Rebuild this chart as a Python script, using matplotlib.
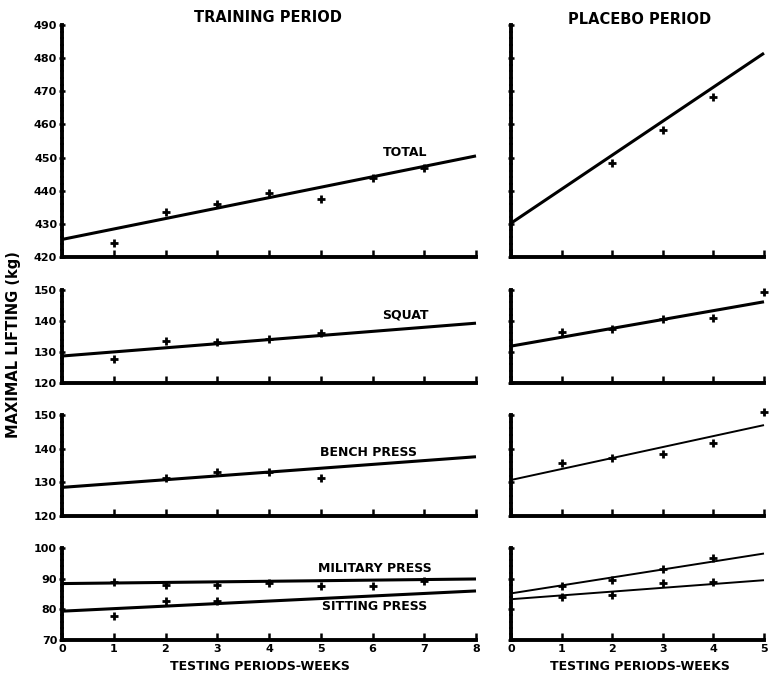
import numpy as np
import matplotlib.pyplot as plt
from matplotlib.ticker import MultipleLocator

# weekly test results (kg) and the fitted regression end points
fit_x_train = [0, 8]
fit_x_plac = [0, 5]

total_train_wk = [1, 2, 3, 4, 5, 6, 7]
total_train = [424.1, 433.5, 435.9, 439.2, 437.4, 443.7, 446.8]
total_train_fit = [425.3, 450.5]
total_plac_wk = [2, 3, 4]
total_plac = [448.4, 458.2, 468.2]
total_plac_fit = [430.2, 481.5]

squat_train_wk = [1, 2, 3, 4, 5]
squat_train = [127.6, 133.6, 133.2, 134.1, 136.2]
squat_train_fit = [128.7, 139.3]
squat_plac_wk = [1, 2, 3, 4, 5]
squat_plac = [136.4, 137.3, 140.5, 140.9, 149.5]
squat_plac_fit = [131.9, 146.2]

bench_train_wk = [2, 3, 4, 5]
bench_train = [131.2, 133.1, 133.0, 131.2]
bench_train_fit = [128.5, 137.6]
bench_plac_wk = [1, 2, 3, 4, 5]
bench_plac = [135.8, 137.1, 138.3, 141.8, 151.0]
bench_plac_fit = [130.7, 147.0]

military_train_wk = [1, 2, 3, 4, 5, 6, 7]
military_train = [88.9, 87.8, 87.8, 88.5, 87.5, 87.5, 89.3]
military_train_fit = [88.4, 89.9]
sitting_train_wk = [1, 2, 3]
sitting_train = [77.8, 82.8, 82.8]
sitting_train_fit = [79.4, 86.0]
military_plac_wk = [1, 2, 3, 4]
military_plac = [87.5, 89.5, 93.0, 96.6]
military_plac_fit = [85.2, 98.2]
sitting_plac_wk = [1, 2, 3, 4]
sitting_plac = [84.0, 84.7, 88.7, 89.0]
sitting_plac_fit = [83.3, 89.5]

ylims = [(420, 490), (120, 150), (120, 150), (70, 100)]
row_labels = ['TOTAL', 'SQUAT', 'BENCH PRESS', None]

W, H = 770, 677
fig = plt.figure(figsize=(W / 100, H / 100), dpi=100)

# pixel boxes (top, bottom) for the four rows
rows = [(25, 257), (290, 383), (415, 516), (548, 640)]
left_x = (62, 476)
right_x = (511, 764)


def make_ax(xr, yr):
    return fig.add_axes([xr[0] / W, 1 - yr[1] / H, (xr[1] - xr[0]) / W, (yr[1] - yr[0]) / H])


def style(ax, xmax, ylim, labels_y, labels_x):
    ax.set_xlim(0, xmax)
    ax.set_ylim(*ylim)
    for s in ['top', 'right']:
        ax.spines[s].set_visible(False)
    for s in ['left', 'bottom']:
        ax.spines[s].set_linewidth(2.8)
    ax.xaxis.set_major_locator(MultipleLocator(1))
    ax.yaxis.set_major_locator(MultipleLocator(10))
    ax.yaxis.set_minor_locator(MultipleLocator(2))
    ax.tick_params(axis='both', which='major', direction='inout', length=5, width=1.8,
                   labelsize=8, pad=1)
    ax.tick_params(axis='y', which='minor', direction='inout', length=3, width=1.2)
    ax.tick_params(axis='x', which='major', direction='in', length=5, pad=3)
    if not labels_y:
        ax.set_yticklabels([])
    if not labels_x:
        ax.set_xticklabels([])
    for t in ax.get_xticklabels() + ax.get_yticklabels():
        t.set_fontweight('bold')


def draw(ax, wk, vals, fx, fy, lw=2.2):
    ax.plot(fx, fy, color='black', lw=lw, solid_capstyle='butt', clip_on=False)
    ax.plot(wk, vals, '+', color='black', ms=6, mew=2, clip_on=False)


train_sets = [
    [(total_train_wk, total_train, total_train_fit)],
    [(squat_train_wk, squat_train, squat_train_fit)],
    [(bench_train_wk, bench_train, bench_train_fit)],
    [(military_train_wk, military_train, military_train_fit),
     (sitting_train_wk, sitting_train, sitting_train_fit)],
]
plac_sets = [
    [(total_plac_wk, total_plac, total_plac_fit)],
    [(squat_plac_wk, squat_plac, squat_plac_fit)],
    [(bench_plac_wk, bench_plac, bench_plac_fit)],
    [(military_plac_wk, military_plac, military_plac_fit),
     (sitting_plac_wk, sitting_plac, sitting_plac_fit)],
]

for i, yr in enumerate(rows):
    last = i == len(rows) - 1
    axl = make_ax(left_x, yr)
    style(axl, 8, ylims[i], True, last)
    for wk, vals, fy in train_sets[i]:
        draw(axl, wk, vals, fit_x_train, fy)

    axr = make_ax(right_x, yr)
    style(axr, 5, ylims[i], False, last)
    for wk, vals, fy in plac_sets[i]:
        draw(axr, wk, vals, fit_x_plac, fy, lw=2.2 if i < 2 else 1.4)

    if row_labels[i]:
        pos = {0: (405, 152), 1: (405, 315), 2: (368, 452)}[i]
        fig.text(pos[0] / W, 1 - pos[1] / H, row_labels[i], ha='center', va='center',
                 fontsize=9, fontweight='bold')

fig.text(375 / W, 1 - 569 / H, 'MILITARY PRESS', ha='center', va='center',
         fontsize=9, fontweight='bold')
fig.text(375 / W, 1 - 606 / H, 'SITTING PRESS', ha='center', va='center',
         fontsize=9, fontweight='bold')

fig.text(268 / W, 1 - 18 / H, 'TRAINING PERIOD', ha='center', va='center',
         fontsize=10.5, fontweight='bold')
fig.text(640 / W, 1 - 20 / H, 'PLACEBO PERIOD', ha='center', va='center',
         fontsize=10.5, fontweight='bold')
fig.text(260 / W, 1 - 667 / H, 'TESTING PERIODS-WEEKS', ha='center', va='center',
         fontsize=9, fontweight='bold')
fig.text(640 / W, 1 - 667 / H, 'TESTING PERIODS-WEEKS', ha='center', va='center',
         fontsize=9, fontweight='bold')
fig.text(14 / W, 1 - 345 / H, 'MAXIMAL LIFTING (kg)', ha='center', va='center',
         rotation=90, fontsize=10.5, fontweight='bold')

fig.savefig('out.png', dpi=100)
